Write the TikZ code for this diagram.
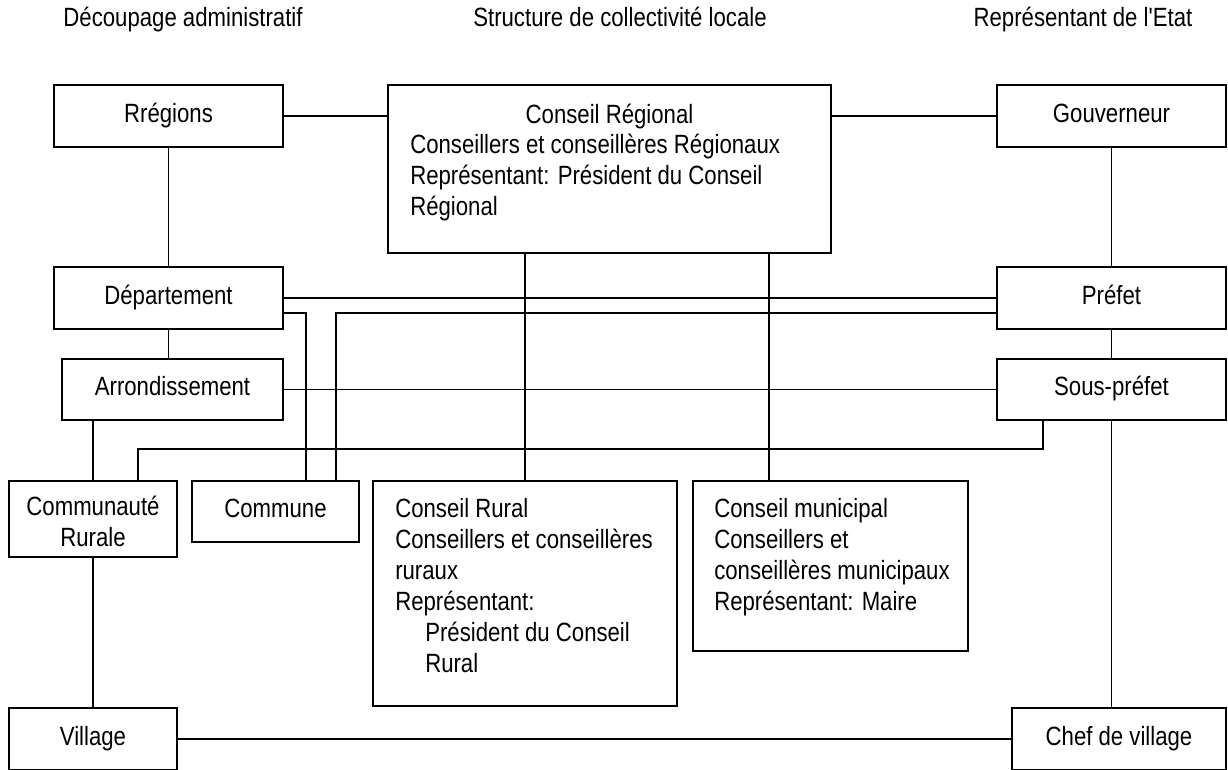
\documentclass[tikz,border=0pt]{standalone}
\usepackage{fontspec}
\setmainfont{Liberation Sans}[FakeStretch=0.84, Ligatures=TeXOff]
\begin{document}
\begin{tikzpicture}[x=0.75pt,y=-0.75pt,
  every node/.style={font=\fontsize{19.8pt}{23.3pt}\selectfont, inner sep=0pt},
  box/.style={draw, line width=1.35pt, text height=14pt, text depth=5pt},
  frame/.style={draw, line width=1.35pt},
  link/.style={line width=1.2pt},
  txt/.style={align=left, anchor=north west},
  head/.style={anchor=base}]
\clip (0,0) rectangle (1228,769);

% column headings
\node[head] (h1) at (183,26) {Découpage administratif};
\node[head] (h2) at (620,26) {Structure de collectivité locale};
\node[head] (h3) at (1083,26) {Représentant de l'Etat};

% administrative divisions
\node[box, minimum width=171.75pt, minimum height=46.5pt] (reg) at (168.5,116) {Rrégions};
\node[box, minimum width=171.75pt, minimum height=46.5pt] (dep) at (168.5,298) {Département};
\node[box, minimum width=165.75pt, minimum height=45.75pt] (arr) at (172.5,389.5) {Arrondissement};
\node[frame, minimum width=126pt, minimum height=57pt] (comm) at (93,519) {};
\node[box, minimum width=125.25pt, minimum height=45.75pt] (cmn) at (275.5,511.5) {Commune};
\node[box, minimum width=126pt, minimum height=46.5pt] (vil) at (93,739) {Village};

% local authorities
\node[frame, minimum width=332.25pt, minimum height=126pt] (creg) at (609.5,169) {};
\node[frame, minimum width=228pt, minimum height=168.75pt] (crur) at (525,593.5) {};
\node[frame, minimum width=206.25pt, minimum height=127.5pt] (cmun) at (830.5,566) {};

% state representatives
\node[box, minimum width=171.75pt, minimum height=46.5pt] (gouv) at (1111.5,116) {Gouverneur};
\node[box, minimum width=171.75pt, minimum height=46.5pt] (pref) at (1111.5,298) {Préfet};
\node[box, minimum width=171.75pt, minimum height=45.75pt] (spref) at (1111.5,389.5) {Sous-préfet};
\node[box, minimum width=160.5pt, minimum height=46.5pt] (chef) at (1119,739) {Chef de village};

% texts of the larger boxes
\node[align=center, anchor=north] (commtxt) at (93,496) {Communauté\\Rurale};
\node[anchor=base] (cregt1) at (609.5,123) {Conseil Régional};
\node[txt] (cregtxt) at (410,134) {Conseillers et conseillères Régionaux\\Représentant: Président du Conseil\\Régional};
\node[txt] (crurtxt) at (395,498) {Conseil Rural\\Conseillers et conseillères\\ruraux\\Représentant:\\\hspace*{22.5pt}Président du Conseil\\\hspace*{22.5pt}Rural};
\node[txt] (cmuntxt) at (714,498) {Conseil municipal\\Conseillers et\\conseillères municipaux\\Représentant: Maire};

% bend points of the routed connectors
\coordinate (d1) at (306,313);
\coordinate (p1) at (336,313);
\coordinate (s1) at (1043,449);
\coordinate (s2) at (138,449);
\coordinate (m1) at (769,300);

% connectors
\draw[link] (reg.east) -- (reg.east -| creg.west);
\draw[link] (gouv.west) -- (gouv.west -| creg.east);
\draw[link] (reg.south) -- (dep.north);
\draw[link] (dep.south) -- (dep.south |- arr.north);
\draw[link] (gouv.south) -- (pref.north);
\draw[link] (pref.south) -- (spref.north);
\draw[link] (dep.east) -- (pref.west);
\draw[link] (dep.east |- d1) -- (d1) -- (d1 |- cmn.north);
\draw[link] (pref.west |- p1) -- (p1) -- (p1 |- cmn.north);
\draw[link] (arr.east) -- (spref.west);
\draw[link] (comm.north |- arr.south) -- (comm.north);
\draw[link] (spref.south -| s1) -- (s1) -- (s2) -- (s2 |- comm.north);
\draw[link] (crur.north |- creg.south) -- (crur.north);
\draw[link] (creg.south -| m1) -- (m1 |- cmun.north);
\draw[link] (comm.south) -- (vil.north);
\draw[link] (spref.south) -- (spref.south |- chef.north);
\draw[link] (vil.east) -- (chef.west);
\end{tikzpicture}
\end{document}
